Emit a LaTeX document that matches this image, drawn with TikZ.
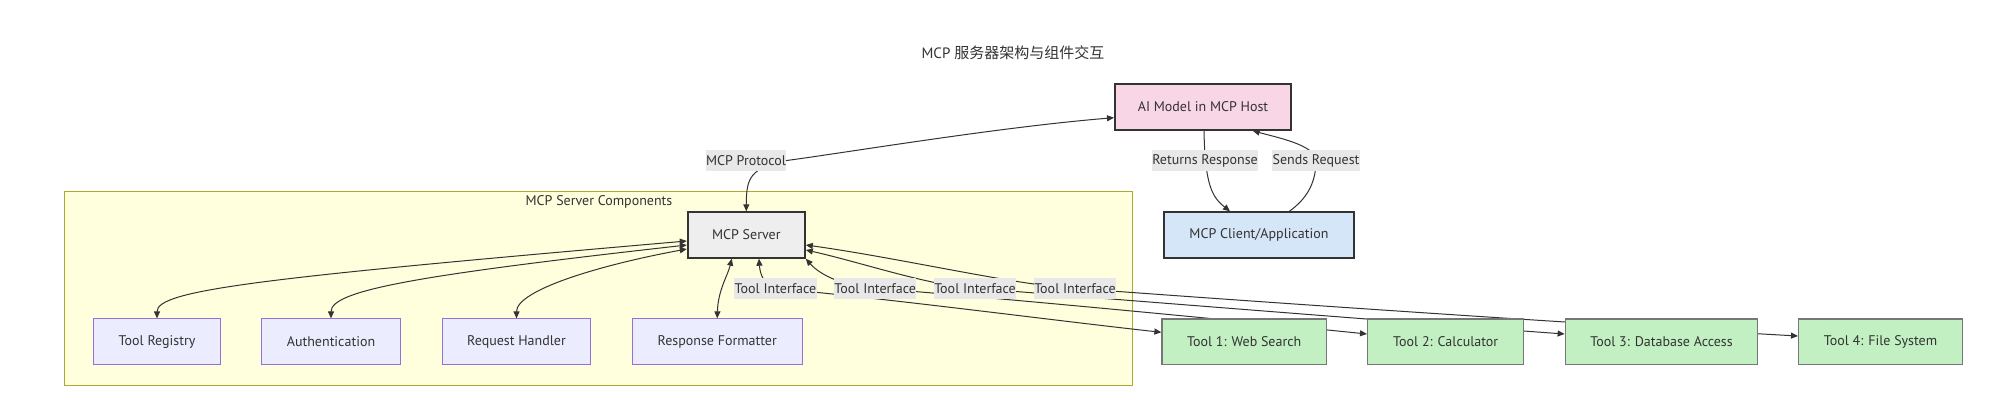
\documentclass[tikz,border=0pt]{standalone}
\usepackage{fontspec}
\setmainfont{PT Sans}
\newfontfamily\cjk{Noto Sans CJK SC}
\usetikzlibrary{arrows.meta}
\definecolor{ink}{HTML}{333333}
\definecolor{aipink}{HTML}{F9D6E6}
\definecolor{servergray}{HTML}{EEEEEE}
\definecolor{clientblue}{HTML}{D5E6F8}
\definecolor{compfill}{HTML}{ECECFF}
\definecolor{comppurple}{HTML}{9370DB}
\definecolor{toolfill}{HTML}{C2F0C2}
\definecolor{toolgray}{HTML}{777777}
\definecolor{labelbg}{HTML}{E8E8E8}
\definecolor{clusterfill}{HTML}{FFFFDE}
\definecolor{clusterline}{HTML}{AAAA33}
\pgfdeclarelayer{clusterlayer}
\pgfdeclarelayer{edgelayer}
\pgfsetlayers{clusterlayer,edgelayer,main}
\begin{document}
\begin{tikzpicture}[x=1pt,y=-1pt,
  font=\fontsize{14}{16}\selectfont, text=ink,
  box/.style={draw, inner sep=0pt, minimum height=45.4pt, text=ink},
  mainbox/.style={box, draw=ink, line width=2pt},
  compbox/.style={box, draw=comppurple, fill=compfill, line width=1pt},
  toolbox/.style={box, draw=toolgray, fill=toolfill, line width=1.4pt},
  elabel/.style={fill=labelbg, inner xsep=0.5pt, inner ysep=0pt, minimum height=20.5pt, text=ink},
  link/.style={draw=ink, line width=1pt},
  biarrow/.style={link, {Triangle[length=7pt,width=6pt]}-{Triangle[length=7pt,width=6pt]}},
  onearrow/.style={link, -{Triangle[length=7pt,width=6pt]}}
]
\useasboundingbox (0,0) rectangle (2012,408);
\begin{pgfonlayer}{clusterlayer}
  \fill[white] (0,0) rectangle (2012,408);
  \draw[fill=clusterfill, draw=clusterline, line width=1pt] (64.3,191.7) rectangle (1132.7,385);
\end{pgfonlayer}

% title
\node (title) at (1013,52.3) {\fontsize{15}{18}\selectfont MCP {\cjk 服务器架构与组件交互}};
\node (ctitle) at (599,201.7) {MCP Server Components};

% main nodes
\node[mainbox, fill=aipink, minimum width=176pt] (ai) at (1203,107) {AI Model in MCP Host};
\node[mainbox, fill=servergray, minimum width=117pt] (server) at (746.3,235) {MCP Server};
\node[mainbox, fill=clientblue, minimum width=190pt] (client) at (1259,235) {MCP Client/Application};

% components
\node[compbox, minimum width=126.6pt] (reg) at (157,341.6) {Tool Registry};
\node[compbox, minimum width=139.4pt] (auth) at (331,341.6) {Authentication};
\node[compbox, minimum width=148.4pt] (req) at (516.5,341.6) {Request Handler};
\node[compbox, minimum width=169.7pt] (fmt) at (717.2,341.6) {Response Formatter};

% tools
\node[toolbox, minimum width=164.3pt] (t1) at (1244.2,341.6) {Tool 1: Web Search};
\node[toolbox, minimum width=156pt] (t2) at (1445.7,341.6) {Tool 2: Calculator};
\node[toolbox, minimum width=192.4pt] (t3) at (1661.5,341.6) {Tool 3: Database Access};
\node[toolbox, minimum width=163.6pt] (t4) at (1880.5,341.6) {Tool 4: File System};

% edge labels
\node[elabel] (proto) at (746,160.5) {MCP Protocol};
\node[elabel] (ret) at (1205,160.5) {Returns Response};
\node[elabel] (send) at (1316,160.5) {Sends Request};
\node[elabel] (ti1) at (775.5,288.3) {Tool Interface};
\node[elabel] (ti2) at (875.2,288.3) {Tool Interface};
\node[elabel] (ti3) at (975,288.3) {Tool Interface};
\node[elabel] (ti4) at (1075,288.3) {Tool Interface};

\begin{pgfonlayer}{edgelayer}
  % host / client / server
  \draw[biarrow] (server.north) .. controls (746.3,178) and (750,168) .. (proto.east)
        .. controls (850,152) and (1000,127) .. ([yshift=-10.7pt]ai.west);
  \draw[onearrow] ([xshift=1pt]ai.south) .. controls (1205,185) and (1212,197) .. ([xshift=-29pt]client.north);
  \draw[onearrow] ([xshift=30.3pt]client.north) .. controls (1305,200) and (1316,185) .. (send.center)
        .. controls (1316,145) and (1275,137) .. ([xshift=49.7pt]ai.south);
  % components
  \draw[biarrow] (reg.north) .. controls (157,290) and (260,278) .. ([yshift=-6pt]server.west);
  \draw[biarrow] (auth.north) .. controls (331,290) and (420,275) .. ([yshift=-10pt]server.west);
  \draw[biarrow] (req.north) .. controls (516.5,290) and (600,265) .. ([yshift=-14pt]server.west);
  \draw[biarrow] (fmt.north) .. controls (718,290) and (728,275) .. ([xshift=-14.6pt]server.south);
  % tools
  \draw[biarrow] ([xshift=12.7pt]server.south) .. controls (760,275) and (765,286) .. (ti1.center)
        .. controls (900,300) and (1050,320) .. ([yshift=9.3pt]t1.west);
  \draw[biarrow] (server.south east) .. controls (820,275) and (845,287) .. (ti2.center)
        .. controls (1000,298) and (1250,322) .. ([yshift=7.6pt]t2.west);
  \draw[biarrow] ([yshift=-15pt]server.east) .. controls (860,262) and (930,286) .. (ti3.center)
        .. controls (1100,298) and (1400,322) .. ([yshift=7.6pt]t3.west);
  \draw[biarrow] ([yshift=-10pt]server.east) .. controls (900,258) and (1020,286) .. (ti4.center)
        .. controls (1300,305) and (1600,325) .. ([yshift=5.6pt]t4.west);
\end{pgfonlayer}
\end{tikzpicture}
\end{document}
